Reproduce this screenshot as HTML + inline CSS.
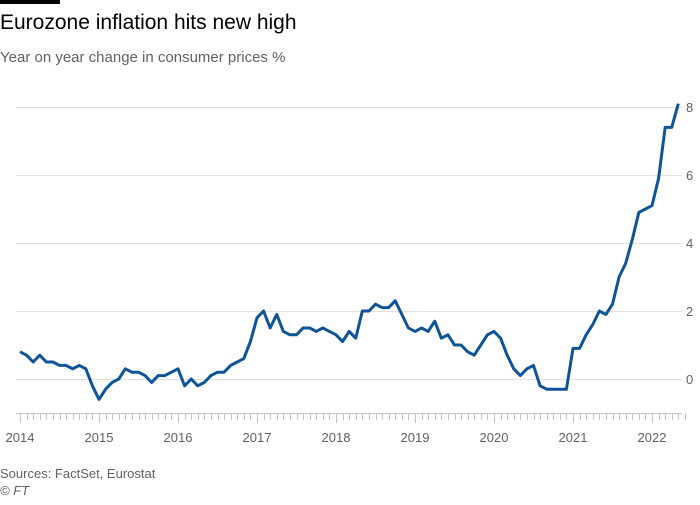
<!DOCTYPE html>
<html><head><meta charset="utf-8"><style>
body{margin:0;background:#fff;width:700px;height:500px;overflow:hidden;font-family:"Liberation Sans",sans-serif}
</style></head><body>
<svg width="700" height="500" xmlns="http://www.w3.org/2000/svg" font-family="Liberation Sans, sans-serif">
<rect x="0" y="0" width="60" height="4" fill="#000"/>
<text x="0" y="29" font-size="21" fill="#000">Eurozone inflation hits new high</text>
<text x="0" y="62" font-size="15" fill="#66605c">Year on year change in consumer prices %</text>
<g stroke="#e6e0dc" stroke-width="1">
<line x1="16" x2="682" y1="107.5" y2="107.5"/>
<line x1="16" x2="682" y1="175.5" y2="175.5"/>
<line x1="16" x2="682" y1="243.5" y2="243.5"/>
<line x1="16" x2="682" y1="311.5" y2="311.5"/>
<line x1="16" x2="682" y1="379.5" y2="379.5"/>
</g>
<g font-size="13" fill="#66605c">
<text x="686" y="112">8</text><text x="686" y="180">6</text><text x="686" y="248">4</text><text x="686" y="316">2</text><text x="686" y="384">0</text>
</g>
<g id="ticks" stroke="#ccc2bb" stroke-width="1"></g>
<g font-size="13" fill="#66605c" text-anchor="middle">
<text x="20" y="442">2014</text><text x="99" y="442">2015</text><text x="178" y="442">2016</text><text x="257" y="442">2017</text><text x="336" y="442">2018</text><text x="415" y="442">2019</text><text x="494" y="442">2020</text><text x="573" y="442">2021</text><text x="652" y="442">2022</text>
</g>
<polyline id="ln" fill="none" stroke="#0f5499" stroke-width="3" stroke-linejoin="round"/>
<text x="0" y="478" font-size="13" fill="#66605c">Sources: FactSet, Eurostat</text>
<text x="0" y="495" font-size="13" font-style="italic" fill="#66605c">© FT</text>
</svg>
<script>
var d=[0.8,0.7,0.5,0.7,0.5,0.5,0.4,0.4,0.3,0.4,0.3,-0.2,
-0.6,-0.3,-0.1,0.0,0.3,0.2,0.2,0.1,-0.1,0.1,0.1,0.2,
0.3,-0.2,0.0,-0.2,-0.1,0.1,0.2,0.2,0.4,0.5,0.6,1.1,
1.8,2.0,1.5,1.9,1.4,1.3,1.3,1.5,1.5,1.4,1.5,1.4,
1.3,1.1,1.4,1.2,2.0,2.0,2.2,2.1,2.1,2.3,1.9,1.5,
1.4,1.5,1.4,1.7,1.2,1.3,1.0,1.0,0.8,0.7,1.0,1.3,
1.4,1.2,0.7,0.3,0.1,0.3,0.4,-0.2,-0.3,-0.3,-0.3,-0.3,
0.9,0.9,1.3,1.6,2.0,1.9,2.2,3.0,3.4,4.1,4.9,5.0,
5.1,5.9,7.4,7.4,8.1];
var p=d.map(function(v,i){return (20+i*79/12).toFixed(2)+","+(379-v*34).toFixed(2)}).join(" ");
document.getElementById("ln").setAttribute("points",p);
var g=document.getElementById("ticks"),s='<line x1="16" x2="682" y1="413.5" y2="413.5"/>';
for(var i=0;i<=101;i++){var x=Math.round(20+i*79/12)+0.5;var y2=(i%12==0)?423:420;s+='<line x1="'+x+'" x2="'+x+'" y1="413" y2="'+y2+'"/>';}
g.innerHTML=s;
</script>
</body></html>
